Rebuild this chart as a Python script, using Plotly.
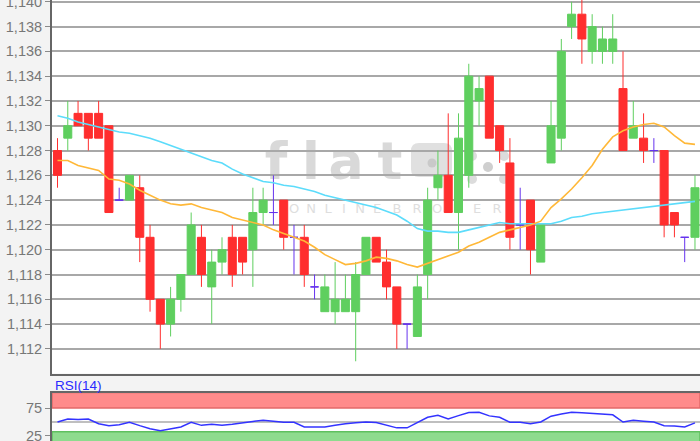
import plotly.graph_objects as go

# ---------------- data ----------------
candle_idx = list(range(63))
opens = [1.128, 1.129, 1.131, 1.131, 1.131, 1.130, 1.124, 1.124, 1.125, 1.121,
         1.116, 1.114, 1.116, 1.118, 1.121, 1.117, 1.119, 1.121, 1.121, 1.120,
         1.123, 1.123, 1.124, 1.121, 1.121, 1.117, 1.115, 1.115, 1.115, 1.115,
         1.118, 1.121, 1.119, 1.117, 1.114, 1.113, 1.118, 1.125, 1.126, 1.123,
         1.126, 1.132, 1.134, 1.130, 1.127, 1.122, 1.124, 1.119, 1.127, 1.129,
         1.138, 1.139, 1.136, 1.136, 1.136, 1.133, 1.129, 1.129, 1.128, 1.128,
         1.123, 1.121, 1.121]
highs = [1.129, 1.132, 1.132, 1.131, 1.132, 1.130, 1.125, 1.126, 1.126, 1.122,
         1.116, 1.117, 1.118, 1.123, 1.122, 1.120, 1.121, 1.122, 1.121, 1.125,
         1.125, 1.126, 1.124, 1.122, 1.122, 1.118, 1.118, 1.119, 1.118, 1.119,
         1.121, 1.121, 1.120, 1.117, 1.114, 1.118, 1.125, 1.128, 1.131, 1.131,
         1.135, 1.134, 1.134, 1.130, 1.129, 1.125, 1.124, 1.122, 1.132, 1.137,
         1.140, 1.1405, 1.139, 1.138, 1.139, 1.136, 1.132, 1.131, 1.129, 1.128,
         1.123, 1.121, 1.126]
lows = [1.125, 1.128, 1.130, 1.128, 1.129, 1.123, 1.124, 1.124, 1.119, 1.115,
        1.112, 1.113, 1.115, 1.118, 1.117, 1.114, 1.118, 1.117, 1.118, 1.117,
        1.122, 1.122, 1.120, 1.118, 1.117, 1.116, 1.115, 1.114, 1.115, 1.111,
        1.118, 1.119, 1.116, 1.112, 1.112, 1.113, 1.116, 1.124, 1.123, 1.120,
        1.125, 1.130, 1.129, 1.127, 1.120, 1.120, 1.118, 1.119, 1.127, 1.128,
        1.137, 1.135, 1.135, 1.135, 1.135, 1.128, 1.129, 1.127, 1.127, 1.121,
        1.121, 1.119, 1.120]
closes = [1.126, 1.130, 1.130, 1.129, 1.129, 1.123, 1.124, 1.126, 1.121, 1.116,
          1.114, 1.116, 1.118, 1.122, 1.118, 1.119, 1.120, 1.118, 1.119, 1.123,
          1.124, 1.123, 1.121, 1.121, 1.118, 1.117, 1.117, 1.116, 1.116, 1.118,
          1.121, 1.119, 1.117, 1.114, 1.114, 1.117, 1.124, 1.126, 1.123, 1.129,
          1.134, 1.133, 1.129, 1.128, 1.121, 1.122, 1.120, 1.122, 1.130, 1.136,
          1.139, 1.137, 1.138, 1.137, 1.137, 1.128, 1.130, 1.128, 1.128, 1.122,
          1.122, 1.121, 1.125]
ma_fast = [1.1272, 1.1272, 1.1268, 1.1266, 1.1264, 1.1257, 1.1256, 1.1253, 1.1248, 1.1244,
           1.1240, 1.1237, 1.1236, 1.1237, 1.1234, 1.1232, 1.1230, 1.1226, 1.1224, 1.1222,
           1.1220, 1.1216, 1.1213, 1.1210, 1.1207, 1.1202, 1.1196, 1.1192, 1.1188, 1.1189,
           1.1191, 1.1194, 1.1193, 1.1191, 1.1188, 1.1186, 1.1189, 1.1192, 1.1195, 1.1198,
           1.1203, 1.1206, 1.1210, 1.1214, 1.1216, 1.1218, 1.1220, 1.1223, 1.1234, 1.1241,
           1.1249, 1.1258, 1.1268, 1.1281, 1.1291, 1.1296, 1.1299, 1.1301, 1.1302, 1.1299,
           1.1292, 1.1286, 1.1285]
ma_slow = [1.1308, 1.1306, 1.1303, 1.1301, 1.1299, 1.1297, 1.1295, 1.1294, 1.1292, 1.1290,
           1.1287, 1.1284, 1.1281, 1.1278, 1.1275, 1.1272, 1.1270, 1.1265, 1.1261, 1.1258,
           1.1255, 1.1254, 1.1252, 1.1251, 1.1249, 1.1247, 1.1244, 1.1242, 1.1240, 1.1238,
           1.1236, 1.1234, 1.1231, 1.1228, 1.1223, 1.1217, 1.1215, 1.1215, 1.1214, 1.1214,
           1.1216, 1.1218, 1.1220, 1.1222, 1.1221, 1.1221, 1.1221, 1.1221, 1.1221, 1.1223,
           1.1226, 1.1227, 1.1229, 1.1230, 1.1231, 1.1232, 1.1233, 1.1234, 1.1235, 1.1236,
           1.1237, 1.1238, 1.1239]
rsi = [50, 55.5, 54.5, 55.5, 47, 43.5, 45, 49.5, 43.5, 38,
       34.5, 38, 41, 49.5, 44, 46, 44, 46, 49, 51,
       53, 51, 49.5, 49.5, 41, 41, 41, 44, 47, 48.5,
       50, 49, 44, 39.5, 39.5, 48.5, 58.5, 62, 55.5, 61.5,
       67, 67.5, 61, 58.5, 49.5, 49.5, 47, 50, 60.5, 64.5,
       67.5, 66.5, 65.5, 64, 63, 50, 53, 51.5, 50, 43.5,
       43, 41, 48.5]
price_ticks = [1.112, 1.114, 1.116, 1.118, 1.120, 1.122, 1.124, 1.126,
               1.128, 1.130, 1.132, 1.134, 1.136, 1.138, 1.140]
price_tick_labels = ["1,112", "1,114", "1,116", "1,118", "1,120", "1,122", "1,124", "1,126",
                     "1,128", "1,130", "1,132", "1,134", "1,136", "1,138", "1,140"]
rsi_ticks = [75, 25]
rsi_tick_labels = ["75", "25"]
rsi_upper, rsi_mid, rsi_lower = 75, 50, 32.3
watermark_word = "flat"
watermark_sub = "ONLINE BROKER"
panel_label = "RSI(14)"

# ---------------- styling helpers ----------------
FIG_W, FIG_H = 700, 441
ML = 52
GREEN = "#5fcf5f"
RED = "#ff2e2e"
PURPLE = "#6633ee"
WM = "#d9d9d9"


def px_x(p):
    return (p - ML) / (FIG_W - ML)


def px_y(p):
    return 1 - p / FIG_H


def pick(cond):
    ids = [i for i in candle_idx if cond(opens[i], closes[i])]
    return dict(x=[candle_idx[i] for i in ids], open=[opens[i] for i in ids],
                high=[highs[i] for i in ids], low=[lows[i] for i in ids],
                close=[closes[i] for i in ids])


fig = go.Figure()
for cond, col in [(lambda o, c: c > o, GREEN), (lambda o, c: c < o, RED), (lambda o, c: c == o, PURPLE)]:
    d = pick(cond)
    fig.add_trace(go.Candlestick(
        **d, xaxis="x", yaxis="y", whiskerwidth=0, showlegend=False, hoverinfo="skip",
        increasing=dict(line=dict(color=col, width=1), fillcolor=col),
        decreasing=dict(line=dict(color=col, width=1), fillcolor=col)))

fig.add_trace(go.Scatter(x=candle_idx, y=ma_slow, mode="lines", xaxis="x", yaxis="y",
                         line=dict(color="#5cdcfb", width=1.6), showlegend=False, hoverinfo="skip"))
fig.add_trace(go.Scatter(x=candle_idx, y=ma_fast, mode="lines", xaxis="x", yaxis="y",
                         line=dict(color="#ffb838", width=1.6), showlegend=False, hoverinfo="skip"))
fig.add_trace(go.Scatter(x=candle_idx, y=rsi, mode="lines", xaxis="x2", yaxis="y2",
                         line=dict(color="#3333ff", width=1.5), showlegend=False, hoverinfo="skip"))

xr = [(ML - 57.5) / 10.282, (FIG_W - 57.5) / 10.282]
main_bottom = 373.5
rsi_top = 392.5
tickfont = dict(family="Liberation Sans, Arial, sans-serif", size=14.5, color="#777777")

shapes = []
# RSI bands
shapes.append(dict(type="rect", xref="x2 domain", yref="y2", x0=0, x1=1, y0=rsi_upper, y1=103,
                   fillcolor="#ff8b8b", line=dict(color="#e36a6a", width=1.5), layer="below"))
shapes.append(dict(type="rect", xref="x2 domain", yref="y2", x0=0, x1=1, y0=10, y1=rsi_lower,
                   fillcolor="#8edb8e", line=dict(color="#5fc05f", width=1.5), layer="below"))
shapes.append(dict(type="line", xref="x2 domain", yref="y2", x0=0, x1=1, y0=rsi_mid, y1=rsi_mid,
                   line=dict(color="#aaaaaa", width=1.5), layer="below"))

# watermark letters
letter_cx = [276, 311, 346, 390]
for ch, cx in zip(watermark_word, letter_cx):
    shapes.append(dict(type="rect", xref="paper", yref="paper",
                       x0=px_x(cx - 20), x1=px_x(cx + 20), y0=px_y(188), y1=px_y(126),
                       line=dict(width=0), fillcolor="rgba(0,0,0,0)", layer="below",
                       label=dict(text=ch, textposition="middle center",
                                  font=dict(family="DejaVu Sans, sans-serif", size=52,
                                            color=WM, weight="bold"))))
# logo block ("ex")
x0, x1, y0, y1, r = 411, 452, 143, 177, 8
path = (f"M {px_x(x0 + r)},{px_y(y0)} L {px_x(x1 - r)},{px_y(y0)} "
        f"Q {px_x(x1)},{px_y(y0)} {px_x(x1)},{px_y(y0 + r)} L {px_x(x1)},{px_y(y1 - r)} "
        f"Q {px_x(x1)},{px_y(y1)} {px_x(x1 - r)},{px_y(y1)} L {px_x(x0 + r)},{px_y(y1)} "
        f"Q {px_x(x0)},{px_y(y1)} {px_x(x0)},{px_y(y1 - r)} L {px_x(x0)},{px_y(y0 + r)} "
        f"Q {px_x(x0)},{px_y(y0)} {px_x(x0 + r)},{px_y(y0)} Z")
shapes.append(dict(type="path", xref="paper", yref="paper", path=path, fillcolor="#e0e0e0",
                   line=dict(width=0), layer="below"))
for (cx, cy, rad, col) in [(432, 163, 4.5, "#c9c9c9"), (472, 156, 5, "#dcdcdc"), (472, 179, 5, "#dcdcdc"),
                           (488, 167, 5, "#cfcfcf"), (504, 156, 5, "#dcdcdc"), (504, 179, 5, "#dcdcdc")]:
    shapes.append(dict(type="circle", xref="paper", yref="paper",
                       x0=px_x(cx - rad), x1=px_x(cx + rad), y0=px_y(cy + rad), y1=px_y(cy - rad),
                       fillcolor=col, line=dict(width=0), layer="below"))
sub_cx = [294, 311, 328, 344, 360, 377, None, 397, 417, 437, 457, 477, 497]
for ch, cx in zip(watermark_sub, sub_cx):
    if ch == " " or cx is None:
        continue
    shapes.append(dict(type="rect", xref="paper", yref="paper",
                       x0=px_x(cx - 8), x1=px_x(cx + 8), y0=px_y(215), y1=px_y(199),
                       line=dict(width=0), fillcolor="rgba(0,0,0,0)", layer="below",
                       label=dict(text=ch, textposition="middle center",
                                  font=dict(family="DejaVu Sans, sans-serif", size=13, color="#dedede"))))

fig.update_layout(
    width=FIG_W, height=FIG_H,
    margin=dict(l=ML, r=0, t=0, b=0, autoexpand=False),
    paper_bgcolor="#f3f3f3", plot_bgcolor="#ffffff",
    separators=",.",
    boxgap=0.22, boxgroupgap=0,
    showlegend=False,
    xaxis=dict(domain=[0, 1], anchor="y", range=xr, showgrid=False, zeroline=False, automargin=False,
               showticklabels=False, showline=True, linecolor="#666666", linewidth=2,
               rangeslider=dict(visible=False), fixedrange=True),
    yaxis=dict(domain=[px_y(main_bottom), 1], anchor="x", range=[1.110013, 1.140145], automargin=False,
               tickmode="array", tickvals=price_ticks, ticktext=price_tick_labels,
               ticks="outside", ticklen=5, tickwidth=1, tickcolor="#8a8a8a", ticklabeloverflow="allow",
               showgrid=True, gridcolor="#a8a8a8", gridwidth=1.5, zeroline=False,
               showline=True, linecolor="#666666", linewidth=2, tickfont=tickfont, fixedrange=True),
    xaxis2=dict(domain=[0, 1], anchor="y2", range=xr, side="top", showgrid=False, zeroline=False,
                automargin=False,
                showticklabels=False, showline=True, linecolor="#666666", linewidth=2, fixedrange=True),
    yaxis2=dict(domain=[0, px_y(rsi_top)], anchor="x2", range=[15.9, 103], automargin=False,
                tickmode="array", tickvals=rsi_ticks, ticktext=rsi_tick_labels,
                ticks="outside", ticklen=5, tickwidth=1, tickcolor="#8a8a8a", ticklabeloverflow="allow",
                showgrid=False, zeroline=False, showline=True, linecolor="#666666", linewidth=2,
                tickfont=tickfont, fixedrange=True),
    shapes=shapes,
    annotations=[dict(text=panel_label, xref="paper", yref="paper", x=px_x(53), y=px_y(385),
                      xanchor="left", yanchor="middle", showarrow=False,
                      font=dict(family="Liberation Sans, Arial, sans-serif", size=13.5, color="#2a2aff"))],
)

fig.write_html("out.html", config={"displayModeBar": False},
               post_script="document.body.style.margin='0px';document.body.style.background='#f3f3f3';")
